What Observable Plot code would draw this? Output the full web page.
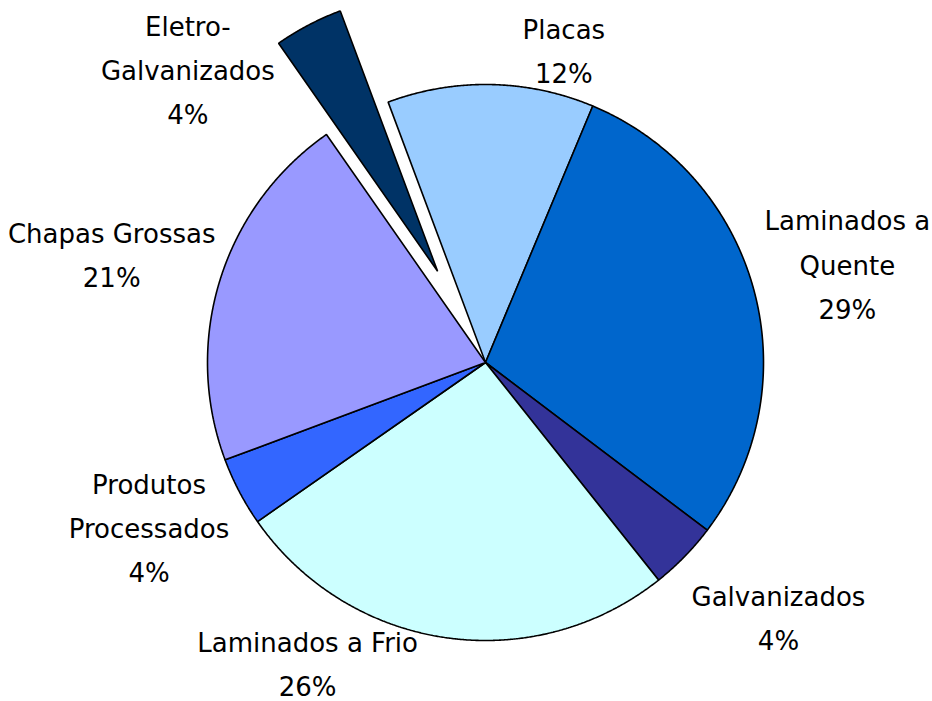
<!DOCTYPE html>
<html>
<head>
<meta charset="utf-8">
<script src="https://cdn.jsdelivr.net/npm/d3@7"></script>
<script src="https://cdn.jsdelivr.net/npm/@observablehq/plot@0.6"></script>
<style>
  html, body { margin: 0; padding: 0; background: #ffffff; }
  #chart svg { display: block; }
</style>
</head>
<body>
<div id="chart"></div>
<script>
// ---- data ----
const categories = ["Placas", "Laminados a Quente", "Galvanizados", "Laminados a Frio", "Produtos Processados", "Chapas Grossas", "Eletro-Galvanizados"];
const shares = [12, 29, 4, 26, 4, 21, 4];
const labelNames = ["Placas", "Laminados a\nQuente", "Galvanizados", "Laminados a Frio", "Produtos\nProcessados", "Chapas Grossas", "Eletro-\nGalvanizados"];
const colors = ["#99CCFF", "#0066CC", "#333399", "#CCFFFF", "#3366FF", "#9999FF", "#003366"];
const exploded = [false, false, false, false, false, false, true];

// ---- layout ----
const W = 932, H = 701;
const R = 278;               // pie radius (data units = px)
const startAngle = -20.5;    // degrees, clockwise from 12 o'clock
const explodeDist = 103;
const labelDist = 380;
const labelNudge = [[71, 64], [-5, -3], [21, -14], [-123, -79], [0, -15], [-11, 1], [-121, 40]]; // screen px

const total = d3.sum(shares);
const rad = d => d * Math.PI / 180;

const polyPts = [];
const labelPts = [];
let acc = startAngle;
categories.forEach((name, i) => {
  const a0 = acc, a1 = acc + shares[i] / total * 360;
  acc = a1;
  const mid = (a0 + a1) / 2;
  const ox = exploded[i] ? explodeDist * Math.sin(rad(mid)) : 0;
  const oy = exploded[i] ? explodeDist * Math.cos(rad(mid)) : 0;
  polyPts.push({name, x: ox, y: oy});
  const n = Math.max(2, Math.ceil((a1 - a0) / 0.25));
  for (let k = 0; k <= n; k++) {
    const a = rad(a0 + (a1 - a0) * k / n);
    polyPts.push({name, x: ox + R * Math.sin(a), y: oy + R * Math.cos(a)});
  }
  labelPts.push({
    text: labelNames[i] + "\n" + shares[i] + "%",
    x: labelDist * Math.sin(rad(mid)) + labelNudge[i][0],
    y: labelDist * Math.cos(rad(mid)) - labelNudge[i][1]
  });
});

const cx = 485, cy = 362;
const chart = Plot.plot({
  width: W,
  height: H,
  margin: 0,
  style: {background: "#ffffff", fontFamily: "'DejaVu Sans', sans-serif"},
  x: {domain: [-cx, W - cx], axis: null},
  y: {domain: [-(H - cy), cy], axis: null},
  color: {domain: categories, range: colors},
  marks: [
    Plot.line(polyPts, {
      x: "x", y: "y", z: "name", fill: "name",
      stroke: "#000000", strokeWidth: 1.6, curve: "linear-closed", strokeLinejoin: "miter"
    }),
    Plot.text(labelPts, {
      x: "x", y: "y", text: "text",
      fontSize: 26, lineHeight: 1.7, fill: "#000000",
      textAnchor: "middle", lineAnchor: "middle"
    })
  ]
});
document.getElementById("chart").appendChild(chart);
</script>
</body>
</html>
